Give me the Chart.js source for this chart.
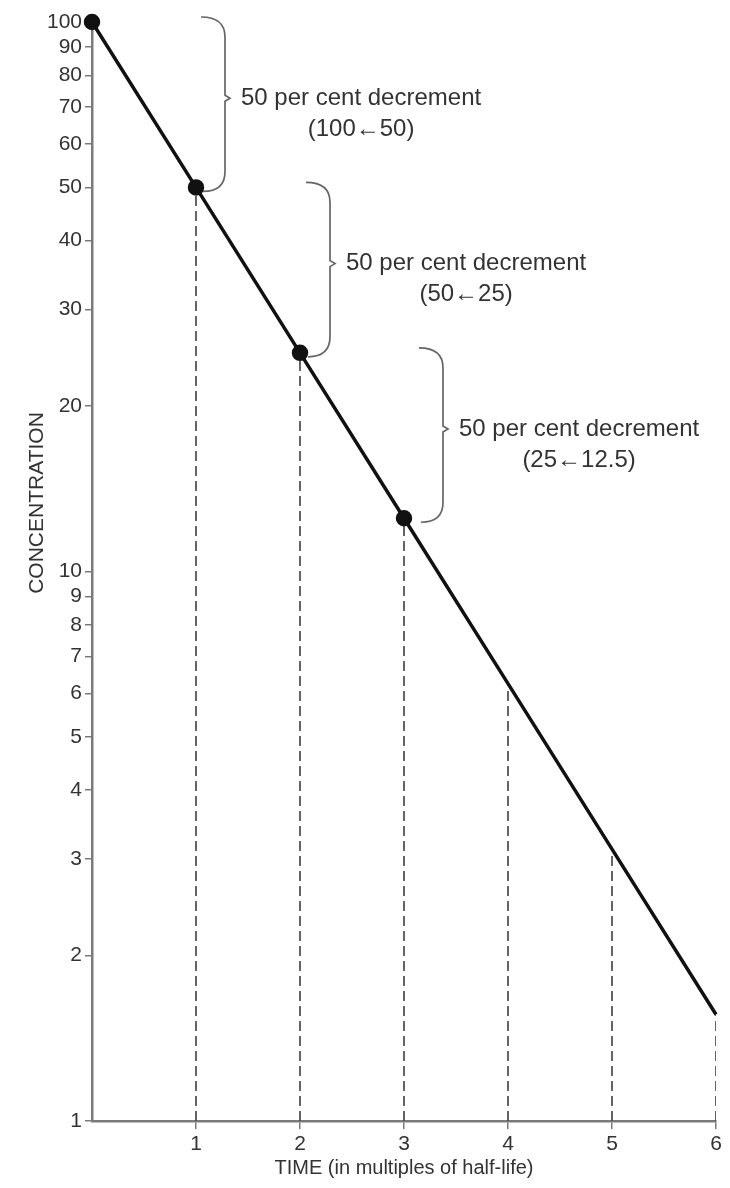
<!DOCTYPE html>
<html>
<head>
<meta charset="utf-8">
<script src="https://cdn.jsdelivr.net/npm/chart.js@4.4.1/dist/chart.umd.min.js"></script>
<style>
  html, body { margin: 0; padding: 0; background: #fff; }
</style>
</head>
<body>
<canvas id="chart" width="730" height="1188"></canvas>
<script>
const halfLives = [0, 1, 2, 3, 4, 5, 6]
const concentration = [100, 50, 25, 12.5, 6.25, 3.125, 1.5625]
const markedPoints = [0, 1, 2, 3]
const yTickValues = [1, 2, 3, 4, 5, 6, 7, 8, 9, 10, 20, 30, 40, 50, 60, 70, 80, 90, 100]
const xTickValues = [1, 2, 3, 4, 5, 6]

// the three bracketed halvings
const decrementFrom = [100, 50, 25]
const decrementTo = [50, 25, 12.5]
const decrementAt = [1, 2, 3]
const decrementText = ["50 per cent decrement", "50 per cent decrement", "50 per cent decrement"]
const decrementRange = ["(100\u219050)", "(50\u219025)", "(25\u219012.5)"]

const xTitle = "TIME (in multiples of half-life)"
const yTitle = "CONCENTRATION"

const fontFamily = "'Liberation Sans', Arial, Helvetica, sans-serif"
const textColor = "#333"
const axisColor = "#7a7a7a"
const braceGaps = [29, 30, 39]

Chart.defaults.font.family = fontFamily
Chart.defaults.color = textColor

const ctx = document.getElementById("chart").getContext("2d")

// dashed drop lines from the axis up to the curve at every half-life
const dropLines = halfLives.slice(1).map(function (t) {
    return {
        data: [{ x: t, y: 1 }, { x: t, y: concentration[t] }],
        borderColor: "#4a4a4a",
        borderWidth: 1.7,
        borderDash: [10, 5],
        pointRadius: 0,
        order: 1
    }
})

const braces = {
    id: "braces",
    afterDatasetsDraw(chart) {
        const c = chart.ctx
        const x = chart.scales.x
        const y = chart.scales.y
        c.save()
        decrementFrom.forEach(function (from, i) {
            const vx = x.getPixelForValue(decrementAt[i]) + braceGaps[i]
            const top = y.getPixelForValue(from) - 5
            const bottom = y.getPixelForValue(decrementTo[i]) + 4
            const tip = (top + bottom) / 2 - 6

            c.strokeStyle = "#666"
            c.lineWidth = 1.7
            c.beginPath()
            c.moveTo(vx - 24, top)
            c.quadraticCurveTo(vx, top, vx, top + 20)
            c.lineTo(vx, tip - 3)
            c.lineTo(vx + 5, tip)
            c.lineTo(vx, tip + 3)
            c.lineTo(vx, bottom - 20)
            c.quadraticCurveTo(vx, bottom, vx - 22, bottom)
            c.stroke()

            c.fillStyle = textColor
            c.font = "24px " + fontFamily
            c.textBaseline = "middle"
            c.textAlign = "left"
            const w = c.measureText(decrementText[i]).width
            c.fillText(decrementText[i], vx + 16, tip)
            c.textAlign = "center"
            c.fillText(decrementRange[i], vx + 16 + w / 2, tip + 31)
        })

        // vertical axis title, sits higher than the middle of the axis
        c.translate(37, 503)
        c.rotate(-Math.PI / 2)
        c.font = "21px " + fontFamily
        c.fillStyle = textColor
        c.textAlign = "center"
        c.textBaseline = "middle"
        c.fillText(yTitle, 0, 0)
        c.restore()
    }
}

new Chart(ctx, {
    type: "line",
    data: {
        datasets: [
            {
                data: halfLives.map((t, i) => ({ x: t, y: concentration[i] })),
                borderColor: "#111",
                borderWidth: 3.5,
                pointRadius: halfLives.map((t, i) => markedPoints.includes(i) ? 6.5 : 0),
                pointBackgroundColor: "#111",
                pointBorderColor: "#111",
                clip: false,
                order: 0
            },
            ...dropLines
        ]
    },
    options: {
        responsive: false,
        animation: false,
        layout: { padding: { top: 22, right: 14, left: 0, bottom: 0 } },
        plugins: {
            legend: { display: false },
            tooltip: { enabled: false }
        },
        scales: {
            x: {
                type: "linear",
                min: 0,
                max: 6,
                afterBuildTicks: scale => { scale.ticks = xTickValues.map(v => ({ value: v })) },
                afterFit: scale => { scale.height = 67 },
                ticks: {
                    autoSkip: false,
                    padding: 3,
                    color: textColor,
                    font: { size: 21 },
                    callback: v => String(v)
                },
                grid: {
                    drawOnChartArea: false,
                    drawTicks: true,
                    tickLength: 8,
                    color: axisColor,
                    lineWidth: 1.5
                },
                border: { display: true, color: axisColor, width: 2.5 },
                title: {
                    display: true,
                    text: xTitle,
                    color: textColor,
                    font: { size: 20 },
                    padding: { top: 0, bottom: 8 }
                }
            },
            y: {
                type: "logarithmic",
                min: 1,
                max: 100,
                afterBuildTicks: scale => { scale.ticks = yTickValues.map(v => ({ value: v })) },
                afterFit: scale => { scale.width = 92 },
                ticks: {
                    autoSkip: false,
                    padding: 3,
                    color: textColor,
                    font: { size: 21 },
                    callback: v => String(v)
                },
                grid: {
                    drawOnChartArea: false,
                    drawTicks: true,
                    tickLength: 7,
                    color: axisColor,
                    lineWidth: 1.5
                },
                border: { display: true, color: axisColor, width: 2.5 }
            }
        }
    },
    plugins: [braces]
})
</script>
</body>
</html>
